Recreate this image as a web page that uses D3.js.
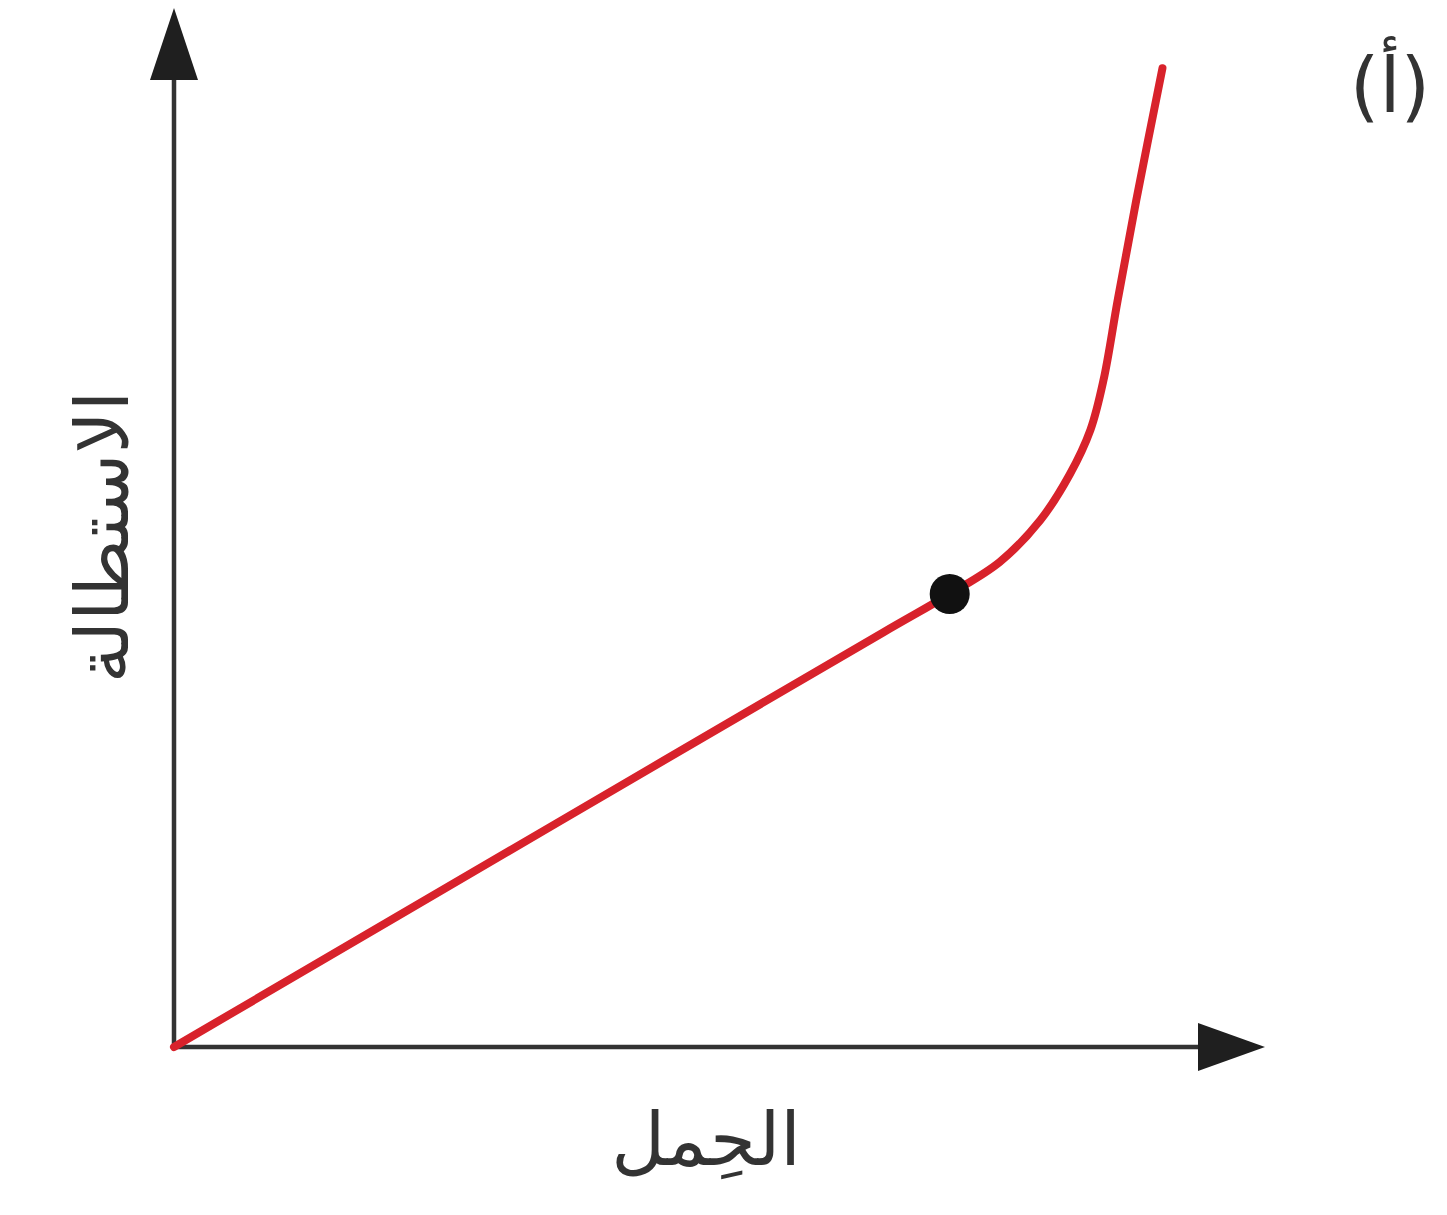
<!DOCTYPE html>
<html lang="ar">
<head>
<meta charset="utf-8">
<script src="https://cdn.jsdelivr.net/npm/d3@7"></script>
<style>
  html, body { margin: 0; padding: 0; background: #fff; }
  svg { display: block; font-family: "DejaVu Sans", sans-serif; }
</style>
</head>
<body>
<svg width="1447" height="1215"></svg>
<script>
// values (arbitrary units, 0-100 on each axis)
const load =       [0, 35, 65, 71.1, 75.7, 79.4, 82.1, 84.0, 85.2, 86.5, 88.2, 90.6];
const elongation = [0, 21.5, 39.9, 43.6, 46.7, 50.7, 55.1, 59.4, 64.2, 71.9, 81.5, 94.2];
const markLoad = 71.1;
const markElongation = 43.6;
const xLabel = "الحِمل";
const yLabel = "الاستطالة";
const panelLabel = "(أ)";

const svg = d3.select("svg");

const x = d3.scaleLinear().domain([0, 100]).range([174, 1265]);
const y = d3.scaleLinear().domain([0, 100]).range([1047, 8]);

const data = load.map((d, i) => ({ load: d, elong: elongation[i] }));

const axisColor = "#333";

// y axis
svg.append("line")
  .attr("x1", x(0)).attr("x2", x(0))
  .attr("y1", y(0) + 2).attr("y2", y(100) + 60)
  .attr("stroke", axisColor)
  .attr("stroke-width", 4.5);

svg.append("path")
  .attr("d", `M${x(0)},${y(100)} L${x(0) - 24},${y(100) + 72} L${x(0) + 24},${y(100) + 72} Z`)
  .attr("fill", "#1f1f1f");

// x axis
svg.append("line")
  .attr("x1", x(0) - 2).attr("x2", x(100) - 60)
  .attr("y1", y(0)).attr("y2", y(0))
  .attr("stroke", axisColor)
  .attr("stroke-width", 4.5);

svg.append("path")
  .attr("d", `M${x(100)},${y(0)} L${x(100) - 67},${y(0) - 24} L${x(100) - 67},${y(0) + 24} Z`)
  .attr("fill", "#1f1f1f");

// curve
const line = d3.line()
  .x(d => x(d.load))
  .y(d => y(d.elong))
  .curve(d3.curveCatmullRom.alpha(0.5));

svg.append("path")
  .datum(data)
  .attr("d", line)
  .attr("fill", "none")
  .attr("stroke", "#d8222b")
  .attr("stroke-width", 8)
  .attr("stroke-linecap", "round");

// marked point
svg.append("circle")
  .attr("cx", x(markLoad))
  .attr("cy", y(markElongation))
  .attr("r", 20)
  .attr("fill", "#111");

// labels
svg.append("text")
  .attr("x", 706)
  .attr("y", 1165)
  .attr("text-anchor", "middle")
  .attr("direction", "rtl")
  .attr("font-size", 74)
  .attr("fill", "#333")
  .text(xLabel);

svg.append("text")
  .attr("transform", "translate(128,537) rotate(-90)")
  .attr("text-anchor", "middle")
  .attr("direction", "rtl")
  .attr("font-size", 74)
  .attr("fill", "#333")
  .text(yLabel);

svg.append("text")
  .attr("x", 1390)
  .attr("y", 112)
  .attr("text-anchor", "middle")
  .attr("font-size", 76)
  .attr("fill", "#333")
  .text(panelLabel);
</script>
</body>
</html>
